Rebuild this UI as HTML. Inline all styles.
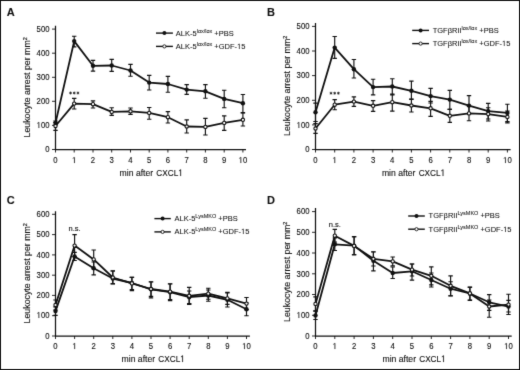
<!DOCTYPE html>
<html><head><meta charset="utf-8"><style>
html,body{margin:0;padding:0;background:#fff;}
body{width:520px;height:370px;overflow:hidden;}
svg{display:block;font-family:"Liberation Sans", sans-serif;filter:grayscale(1);}
svg text{fill:#111;stroke:#111;}
svg text:not([stroke-width]){stroke-width:0.12px;}
</style></head><body>
<svg width="520" height="370" viewBox="0 0 520 370">
<defs><filter id="bl" x="0" y="0" width="520" height="370" filterUnits="userSpaceOnUse" color-interpolation-filters="sRGB"><feConvolveMatrix order="3" kernelMatrix="0.0100 0.0800 0.0100 0.0800 0.6400 0.0800 0.0100 0.0800 0.0100" edgeMode="duplicate" preserveAlpha="true"/></filter></defs>
<g filter="url(#bl)">
<rect x="0.5" y="0.5" width="519" height="369" fill="#fff" stroke="#111" stroke-width="1"/>
<text x="6.7" y="15.6" font-size="11" font-weight="bold" stroke-width="0.1">A</text>
<path d="M55.5 25.8V149.5H246.0" fill="none" stroke="#111" stroke-width="1.25"/>
<line x1="52.0" y1="149.5" x2="55.5" y2="149.5" stroke="#111" stroke-width="0.9"/>
<text transform="translate(49.50 152.00) scale(0.91 1)" font-size="8.5" text-anchor="end">0</text>
<line x1="52.0" y1="125.4" x2="55.5" y2="125.4" stroke="#111" stroke-width="0.9"/>
<text transform="translate(49.50 128.00) scale(0.91 1)" font-size="8.5" text-anchor="end"> 00</text><g transform="translate(49.50 128.00) scale(0.91 1)"><path d="M515 0L515 1237L197 1010L197 1180L530 1409L696 1409L696 0Z" transform="translate(-14.153 0.000) scale(0.004150 -0.004150)" fill="#111" stroke="#111" stroke-width="0.12" vector-effect="non-scaling-stroke"/></g>
<line x1="52.0" y1="101.3" x2="55.5" y2="101.3" stroke="#111" stroke-width="0.9"/>
<text transform="translate(49.50 104.00) scale(0.91 1)" font-size="8.5" text-anchor="end">200</text>
<line x1="52.0" y1="77.3" x2="55.5" y2="77.3" stroke="#111" stroke-width="0.9"/>
<text transform="translate(49.50 80.00) scale(0.91 1)" font-size="8.5" text-anchor="end">300</text>
<line x1="52.0" y1="53.2" x2="55.5" y2="53.2" stroke="#111" stroke-width="0.9"/>
<text transform="translate(49.50 56.00) scale(0.91 1)" font-size="8.5" text-anchor="end">400</text>
<line x1="52.0" y1="29.1" x2="55.5" y2="29.1" stroke="#111" stroke-width="0.9"/>
<text transform="translate(49.50 32.00) scale(0.91 1)" font-size="8.5" text-anchor="end">500</text>
<line x1="55.5" y1="149.5" x2="55.5" y2="152.5" stroke="#111" stroke-width="0.9"/>
<text transform="translate(55.50 163.00) scale(0.91 1)" font-size="8.5" text-anchor="middle">0</text>
<line x1="74.2" y1="149.5" x2="74.2" y2="152.5" stroke="#111" stroke-width="0.9"/>
<text transform="translate(74.24 163.00) scale(0.91 1)" font-size="8.5" text-anchor="middle"> </text><g transform="translate(74.24 163.00) scale(0.91 1)"><path d="M515 0L515 1237L197 1010L197 1180L530 1409L696 1409L696 0Z" transform="translate(-2.362 0.000) scale(0.004150 -0.004150)" fill="#111" stroke="#111" stroke-width="0.12" vector-effect="non-scaling-stroke"/></g>
<line x1="93.0" y1="149.5" x2="93.0" y2="152.5" stroke="#111" stroke-width="0.9"/>
<text transform="translate(92.98 163.00) scale(0.91 1)" font-size="8.5" text-anchor="middle">2</text>
<line x1="111.7" y1="149.5" x2="111.7" y2="152.5" stroke="#111" stroke-width="0.9"/>
<text transform="translate(111.72 163.00) scale(0.91 1)" font-size="8.5" text-anchor="middle">3</text>
<line x1="130.5" y1="149.5" x2="130.5" y2="152.5" stroke="#111" stroke-width="0.9"/>
<text transform="translate(130.46 163.00) scale(0.91 1)" font-size="8.5" text-anchor="middle">4</text>
<line x1="149.2" y1="149.5" x2="149.2" y2="152.5" stroke="#111" stroke-width="0.9"/>
<text transform="translate(149.20 163.00) scale(0.91 1)" font-size="8.5" text-anchor="middle">5</text>
<line x1="167.9" y1="149.5" x2="167.9" y2="152.5" stroke="#111" stroke-width="0.9"/>
<text transform="translate(167.94 163.00) scale(0.91 1)" font-size="8.5" text-anchor="middle">6</text>
<line x1="186.7" y1="149.5" x2="186.7" y2="152.5" stroke="#111" stroke-width="0.9"/>
<text transform="translate(186.68 163.00) scale(0.91 1)" font-size="8.5" text-anchor="middle">7</text>
<line x1="205.4" y1="149.5" x2="205.4" y2="152.5" stroke="#111" stroke-width="0.9"/>
<text transform="translate(205.42 163.00) scale(0.91 1)" font-size="8.5" text-anchor="middle">8</text>
<line x1="224.2" y1="149.5" x2="224.2" y2="152.5" stroke="#111" stroke-width="0.9"/>
<text transform="translate(224.16 163.00) scale(0.91 1)" font-size="8.5" text-anchor="middle">9</text>
<line x1="242.9" y1="149.5" x2="242.9" y2="152.5" stroke="#111" stroke-width="0.9"/>
<text transform="translate(242.90 163.00) scale(0.91 1)" font-size="8.5" text-anchor="middle"> 0</text><g transform="translate(242.90 163.00) scale(0.91 1)"><path d="M515 0L515 1237L197 1010L197 1180L530 1409L696 1409L696 0Z" transform="translate(-4.723 0.000) scale(0.004150 -0.004150)" fill="#111" stroke="#111" stroke-width="0.12" vector-effect="non-scaling-stroke"/></g>
<text transform="translate(119.60 176.00) scale(0.9200 1)" font-size="9.4">min after</text>
<text transform="translate(156.35 176.00) scale(0.8750 1)" font-size="9.4">CXCL </text><g transform="translate(156.35 176.00) scale(0.8750 1)"><path d="M515 0L515 1237L197 1010L197 1180L530 1409L696 1409L696 0Z" transform="translate(25.061 0.000) scale(0.004590 -0.004590)" fill="#111" stroke="#111" stroke-width="0.12" vector-effect="non-scaling-stroke"/></g>
<text transform="translate(30.3 87.4) rotate(-90) scale(0.9362 1)" font-size="9.4" text-anchor="middle">Leukocyte arrest per mm<tspan font-size="5.8" dy="-3.4" stroke-width="0.2">2</tspan></text>
<path d="M55.5 122.5V130.4M53.3 122.5H57.7M53.3 130.4H57.7" stroke="#111" stroke-width="1.15" fill="none"/>
<path d="M74.2 98.3V109.0M72.0 98.3H76.4M72.0 109.0H76.4" stroke="#111" stroke-width="1.15" fill="none"/>
<path d="M93.0 100.8V108.0M90.8 100.8H95.2M90.8 108.0H95.2" stroke="#111" stroke-width="1.15" fill="none"/>
<path d="M111.7 107.7V115.4M109.5 107.7H113.9M109.5 115.4H113.9" stroke="#111" stroke-width="1.15" fill="none"/>
<path d="M130.5 108.0V114.4M128.3 108.0H132.7M128.3 114.4H132.7" stroke="#111" stroke-width="1.15" fill="none"/>
<path d="M149.2 107.5V119.2M147.0 107.5H151.4M147.0 119.2H151.4" stroke="#111" stroke-width="1.15" fill="none"/>
<path d="M167.9 111.6V123.0M165.7 111.6H170.1M165.7 123.0H170.1" stroke="#111" stroke-width="1.15" fill="none"/>
<path d="M186.7 119.9V133.0M184.5 119.9H188.9M184.5 133.0H188.9" stroke="#111" stroke-width="1.15" fill="none"/>
<path d="M205.4 118.4V135.0M203.2 118.4H207.6M203.2 135.0H207.6" stroke="#111" stroke-width="1.15" fill="none"/>
<path d="M224.2 115.9V130.3M222.0 115.9H226.4M222.0 130.3H226.4" stroke="#111" stroke-width="1.15" fill="none"/>
<path d="M242.9 113.0V126.0M240.7 113.0H245.1M240.7 126.0H245.1" stroke="#111" stroke-width="1.15" fill="none"/>
<path d="M55.5 121.0V125.0M53.3 121.0H57.7M53.3 125.0H57.7" stroke="#111" stroke-width="1.15" fill="none"/>
<path d="M74.2 36.2V46.8M72.0 36.2H76.4M72.0 46.8H76.4" stroke="#111" stroke-width="1.15" fill="none"/>
<path d="M93.0 60.3V71.1M90.8 60.3H95.2M90.8 71.1H95.2" stroke="#111" stroke-width="1.15" fill="none"/>
<path d="M111.7 59.4V71.3M109.5 59.4H113.9M109.5 71.3H113.9" stroke="#111" stroke-width="1.15" fill="none"/>
<path d="M130.5 64.4V76.2M128.3 64.4H132.7M128.3 76.2H132.7" stroke="#111" stroke-width="1.15" fill="none"/>
<path d="M149.2 75.4V90.0M147.0 75.4H151.4M147.0 90.0H151.4" stroke="#111" stroke-width="1.15" fill="none"/>
<path d="M167.9 76.4V92.2M165.7 76.4H170.1M165.7 92.2H170.1" stroke="#111" stroke-width="1.15" fill="none"/>
<path d="M186.7 84.6V94.3M184.5 84.6H188.9M184.5 94.3H188.9" stroke="#111" stroke-width="1.15" fill="none"/>
<path d="M205.4 84.6V98.2M203.2 84.6H207.6M203.2 98.2H207.6" stroke="#111" stroke-width="1.15" fill="none"/>
<path d="M224.2 90.2V107.7M222.0 90.2H226.4M222.0 107.7H226.4" stroke="#111" stroke-width="1.15" fill="none"/>
<path d="M242.9 94.5V112.6M240.7 94.5H245.1M240.7 112.6H245.1" stroke="#111" stroke-width="1.15" fill="none"/>
<path d="M55.5 126.0 L74.2 103.6 L93.0 104.2 L111.7 111.9 L130.5 111.3 L149.2 112.9 L167.9 117.2 L186.7 126.5 L205.4 126.9 L224.2 122.9 L242.9 119.8" stroke="#111" stroke-width="1.8" fill="none" stroke-linejoin="round"/>
<path d="M55.5 123.0 L74.2 41.1 L93.0 65.8 L111.7 65.5 L130.5 70.5 L149.2 82.6 L167.9 84.0 L186.7 89.6 L205.4 91.3 L224.2 98.9 L242.9 103.2" stroke="#111" stroke-width="1.8" fill="none" stroke-linejoin="round"/>
<circle cx="55.5" cy="123.0" r="2.2" fill="#111"/>
<circle cx="74.2" cy="41.1" r="2.2" fill="#111"/>
<circle cx="93.0" cy="65.8" r="2.2" fill="#111"/>
<circle cx="111.7" cy="65.5" r="2.2" fill="#111"/>
<circle cx="130.5" cy="70.5" r="2.2" fill="#111"/>
<circle cx="149.2" cy="82.6" r="2.2" fill="#111"/>
<circle cx="167.9" cy="84.0" r="2.2" fill="#111"/>
<circle cx="186.7" cy="89.6" r="2.2" fill="#111"/>
<circle cx="205.4" cy="91.3" r="2.2" fill="#111"/>
<circle cx="224.2" cy="98.9" r="2.2" fill="#111"/>
<circle cx="242.9" cy="103.2" r="2.2" fill="#111"/>
<circle cx="55.5" cy="126.0" r="1.65" fill="#fff" stroke="#111" stroke-width="1.1"/>
<circle cx="74.2" cy="103.6" r="1.65" fill="#fff" stroke="#111" stroke-width="1.1"/>
<circle cx="93.0" cy="104.2" r="1.65" fill="#fff" stroke="#111" stroke-width="1.1"/>
<circle cx="111.7" cy="111.9" r="1.65" fill="#fff" stroke="#111" stroke-width="1.1"/>
<circle cx="130.5" cy="111.3" r="1.65" fill="#fff" stroke="#111" stroke-width="1.1"/>
<circle cx="149.2" cy="112.9" r="1.65" fill="#fff" stroke="#111" stroke-width="1.1"/>
<circle cx="167.9" cy="117.2" r="1.65" fill="#fff" stroke="#111" stroke-width="1.1"/>
<circle cx="186.7" cy="126.5" r="1.65" fill="#fff" stroke="#111" stroke-width="1.1"/>
<circle cx="205.4" cy="126.9" r="1.65" fill="#fff" stroke="#111" stroke-width="1.1"/>
<circle cx="224.2" cy="122.9" r="1.65" fill="#fff" stroke="#111" stroke-width="1.1"/>
<circle cx="242.9" cy="119.8" r="1.65" fill="#fff" stroke="#111" stroke-width="1.1"/>
<line x1="156.0" y1="33.1" x2="172.9" y2="33.1" stroke="#111" stroke-width="1.4"/>
<circle cx="164.4" cy="33.1" r="2" fill="#111"/>
<text x="175.8" y="36.0" font-size="7.5" stroke-width="0.05">ALK-5<tspan font-size="5.5" dy="-3.3" stroke-width="0.05">lox/lox</tspan><tspan dy="3.3"> +PBS</tspan></text>
<line x1="156.0" y1="46.4" x2="172.9" y2="46.4" stroke="#111" stroke-width="1.4"/>
<circle cx="164.4" cy="46.4" r="1.6" fill="#fff" stroke="#111" stroke-width="0.9"/>
<text x="175.8" y="49.0" font-size="7.5" stroke-width="0.05">ALK-5<tspan font-size="5.5" dy="-3.3" stroke-width="0.05">lox/lox</tspan><tspan dy="3.3"> +GDF- 5</tspan></text><path d="M515 0L515 1237L197 1010L197 1180L530 1409L696 1409L696 0Z" transform="translate(237.034 49.000) scale(0.003662 -0.003662)" fill="#111" stroke="#111" stroke-width="0.05" vector-effect="non-scaling-stroke"/>
<path d="M70.54 94.45L70.54 91.55M71.80 93.72L69.28 92.28M69.28 93.72L71.80 92.28" stroke="#111" stroke-width="0.75" fill="none"/>
<path d="M74.24 94.45L74.24 91.55M75.50 93.72L72.98 92.28M72.98 93.72L75.50 92.28" stroke="#111" stroke-width="0.75" fill="none"/>
<path d="M77.94 94.45L77.94 91.55M79.20 93.72L76.68 92.28M76.68 93.72L79.20 92.28" stroke="#111" stroke-width="0.75" fill="none"/>
<text x="267.1" y="15.9" font-size="11" font-weight="bold" stroke-width="0.1">B</text>
<path d="M315.5 22.9V149.5H510.6" fill="none" stroke="#111" stroke-width="1.25"/>
<line x1="312.0" y1="149.5" x2="315.5" y2="149.5" stroke="#111" stroke-width="0.9"/>
<text transform="translate(309.50 152.00) scale(0.91 1)" font-size="8.5" text-anchor="end">0</text>
<line x1="312.0" y1="124.9" x2="315.5" y2="124.9" stroke="#111" stroke-width="0.9"/>
<text transform="translate(309.50 128.00) scale(0.91 1)" font-size="8.5" text-anchor="end"> 00</text><g transform="translate(309.50 128.00) scale(0.91 1)"><path d="M515 0L515 1237L197 1010L197 1180L530 1409L696 1409L696 0Z" transform="translate(-14.153 0.000) scale(0.004150 -0.004150)" fill="#111" stroke="#111" stroke-width="0.12" vector-effect="non-scaling-stroke"/></g>
<line x1="312.0" y1="100.3" x2="315.5" y2="100.3" stroke="#111" stroke-width="0.9"/>
<text transform="translate(309.50 103.00) scale(0.91 1)" font-size="8.5" text-anchor="end">200</text>
<line x1="312.0" y1="75.6" x2="315.5" y2="75.6" stroke="#111" stroke-width="0.9"/>
<text transform="translate(309.50 78.00) scale(0.91 1)" font-size="8.5" text-anchor="end">300</text>
<line x1="312.0" y1="51.0" x2="315.5" y2="51.0" stroke="#111" stroke-width="0.9"/>
<text transform="translate(309.50 54.00) scale(0.91 1)" font-size="8.5" text-anchor="end">400</text>
<line x1="312.0" y1="26.4" x2="315.5" y2="26.4" stroke="#111" stroke-width="0.9"/>
<text transform="translate(309.50 29.00) scale(0.91 1)" font-size="8.5" text-anchor="end">500</text>
<line x1="315.5" y1="149.5" x2="315.5" y2="152.5" stroke="#111" stroke-width="0.9"/>
<text transform="translate(315.50 163.00) scale(0.91 1)" font-size="8.5" text-anchor="middle">0</text>
<line x1="334.7" y1="149.5" x2="334.7" y2="152.5" stroke="#111" stroke-width="0.9"/>
<text transform="translate(334.69 163.00) scale(0.91 1)" font-size="8.5" text-anchor="middle"> </text><g transform="translate(334.69 163.00) scale(0.91 1)"><path d="M515 0L515 1237L197 1010L197 1180L530 1409L696 1409L696 0Z" transform="translate(-2.362 0.000) scale(0.004150 -0.004150)" fill="#111" stroke="#111" stroke-width="0.12" vector-effect="non-scaling-stroke"/></g>
<line x1="353.9" y1="149.5" x2="353.9" y2="152.5" stroke="#111" stroke-width="0.9"/>
<text transform="translate(353.88 163.00) scale(0.91 1)" font-size="8.5" text-anchor="middle">2</text>
<line x1="373.1" y1="149.5" x2="373.1" y2="152.5" stroke="#111" stroke-width="0.9"/>
<text transform="translate(373.07 163.00) scale(0.91 1)" font-size="8.5" text-anchor="middle">3</text>
<line x1="392.3" y1="149.5" x2="392.3" y2="152.5" stroke="#111" stroke-width="0.9"/>
<text transform="translate(392.26 163.00) scale(0.91 1)" font-size="8.5" text-anchor="middle">4</text>
<line x1="411.4" y1="149.5" x2="411.4" y2="152.5" stroke="#111" stroke-width="0.9"/>
<text transform="translate(411.45 163.00) scale(0.91 1)" font-size="8.5" text-anchor="middle">5</text>
<line x1="430.6" y1="149.5" x2="430.6" y2="152.5" stroke="#111" stroke-width="0.9"/>
<text transform="translate(430.64 163.00) scale(0.91 1)" font-size="8.5" text-anchor="middle">6</text>
<line x1="449.8" y1="149.5" x2="449.8" y2="152.5" stroke="#111" stroke-width="0.9"/>
<text transform="translate(449.83 163.00) scale(0.91 1)" font-size="8.5" text-anchor="middle">7</text>
<line x1="469.0" y1="149.5" x2="469.0" y2="152.5" stroke="#111" stroke-width="0.9"/>
<text transform="translate(469.02 163.00) scale(0.91 1)" font-size="8.5" text-anchor="middle">8</text>
<line x1="488.2" y1="149.5" x2="488.2" y2="152.5" stroke="#111" stroke-width="0.9"/>
<text transform="translate(488.21 163.00) scale(0.91 1)" font-size="8.5" text-anchor="middle">9</text>
<line x1="507.4" y1="149.5" x2="507.4" y2="152.5" stroke="#111" stroke-width="0.9"/>
<text transform="translate(507.40 163.00) scale(0.91 1)" font-size="8.5" text-anchor="middle"> 0</text><g transform="translate(507.40 163.00) scale(0.91 1)"><path d="M515 0L515 1237L197 1010L197 1180L530 1409L696 1409L696 0Z" transform="translate(-4.723 0.000) scale(0.004150 -0.004150)" fill="#111" stroke="#111" stroke-width="0.12" vector-effect="non-scaling-stroke"/></g>
<text transform="translate(381.90 176.00) scale(0.9200 1)" font-size="9.4">min after</text>
<text transform="translate(418.65 176.00) scale(0.8750 1)" font-size="9.4">CXCL </text><g transform="translate(418.65 176.00) scale(0.8750 1)"><path d="M515 0L515 1237L197 1010L197 1180L530 1409L696 1409L696 0Z" transform="translate(25.061 0.000) scale(0.004590 -0.004590)" fill="#111" stroke="#111" stroke-width="0.12" vector-effect="non-scaling-stroke"/></g>
<text transform="translate(290.3 85.9) rotate(-90) scale(0.9362 1)" font-size="9.4" text-anchor="middle">Leukocyte arrest per mm<tspan font-size="5.8" dy="-3.4" stroke-width="0.2">2</tspan></text>
<path d="M315.5 123.6V133.4M313.3 123.6H317.7M313.3 133.4H317.7" stroke="#111" stroke-width="1.15" fill="none"/>
<path d="M334.7 99.6V109.7M332.5 99.6H336.9M332.5 109.7H336.9" stroke="#111" stroke-width="1.15" fill="none"/>
<path d="M353.9 96.9V106.4M351.7 96.9H356.1M351.7 106.4H356.1" stroke="#111" stroke-width="1.15" fill="none"/>
<path d="M373.1 100.6V111.3M370.9 100.6H375.3M370.9 111.3H375.3" stroke="#111" stroke-width="1.15" fill="none"/>
<path d="M392.3 94.1V111.1M390.1 94.1H394.5M390.1 111.1H394.5" stroke="#111" stroke-width="1.15" fill="none"/>
<path d="M411.4 99.0V112.0M409.2 99.0H413.6M409.2 112.0H413.6" stroke="#111" stroke-width="1.15" fill="none"/>
<path d="M430.6 101.4V116.3M428.4 101.4H432.8M428.4 116.3H432.8" stroke="#111" stroke-width="1.15" fill="none"/>
<path d="M449.8 109.4V122.4M447.6 109.4H452.0M447.6 122.4H452.0" stroke="#111" stroke-width="1.15" fill="none"/>
<path d="M469.0 106.5V120.7M466.8 106.5H471.2M466.8 120.7H471.2" stroke="#111" stroke-width="1.15" fill="none"/>
<path d="M488.2 107.7V121.0M486.0 107.7H490.4M486.0 121.0H490.4" stroke="#111" stroke-width="1.15" fill="none"/>
<path d="M507.4 111.0V122.9M505.2 111.0H509.6M505.2 122.9H509.6" stroke="#111" stroke-width="1.15" fill="none"/>
<path d="M315.5 103.1V121.5M313.3 103.1H317.7M313.3 121.5H317.7" stroke="#111" stroke-width="1.15" fill="none"/>
<path d="M334.7 36.5V58.4M332.5 36.5H336.9M332.5 58.4H336.9" stroke="#111" stroke-width="1.15" fill="none"/>
<path d="M353.9 59.5V78.0M351.7 59.5H356.1M351.7 78.0H356.1" stroke="#111" stroke-width="1.15" fill="none"/>
<path d="M373.1 79.2V94.9M370.9 79.2H375.3M370.9 94.9H375.3" stroke="#111" stroke-width="1.15" fill="none"/>
<path d="M392.3 78.7V94.9M390.1 78.7H394.5M390.1 94.9H394.5" stroke="#111" stroke-width="1.15" fill="none"/>
<path d="M411.4 81.1V99.4M409.2 81.1H413.6M409.2 99.4H413.6" stroke="#111" stroke-width="1.15" fill="none"/>
<path d="M430.6 88.3V103.0M428.4 88.3H432.8M428.4 103.0H432.8" stroke="#111" stroke-width="1.15" fill="none"/>
<path d="M449.8 90.4V109.4M447.6 90.4H452.0M447.6 109.4H452.0" stroke="#111" stroke-width="1.15" fill="none"/>
<path d="M469.0 95.6V113.7M466.8 95.6H471.2M466.8 113.7H471.2" stroke="#111" stroke-width="1.15" fill="none"/>
<path d="M488.2 103.4V119.0M486.0 103.4H490.4M486.0 119.0H490.4" stroke="#111" stroke-width="1.15" fill="none"/>
<path d="M507.4 104.2V121.6M505.2 104.2H509.6M505.2 121.6H509.6" stroke="#111" stroke-width="1.15" fill="none"/>
<path d="M315.5 128.5 L334.7 104.7 L353.9 101.6 L373.1 105.8 L392.3 102.2 L411.4 105.5 L430.6 108.3 L449.8 115.8 L469.0 113.4 L488.2 114.1 L507.4 116.9" stroke="#111" stroke-width="1.8" fill="none" stroke-linejoin="round"/>
<path d="M315.5 112.3 L334.7 47.6 L353.9 69.2 L373.1 87.1 L392.3 86.5 L411.4 90.8 L430.6 96.1 L449.8 99.6 L469.0 105.6 L488.2 111.1 L507.4 112.9" stroke="#111" stroke-width="1.8" fill="none" stroke-linejoin="round"/>
<circle cx="315.5" cy="112.3" r="2.2" fill="#111"/>
<circle cx="334.7" cy="47.6" r="2.2" fill="#111"/>
<circle cx="353.9" cy="69.2" r="2.2" fill="#111"/>
<circle cx="373.1" cy="87.1" r="2.2" fill="#111"/>
<circle cx="392.3" cy="86.5" r="2.2" fill="#111"/>
<circle cx="411.4" cy="90.8" r="2.2" fill="#111"/>
<circle cx="430.6" cy="96.1" r="2.2" fill="#111"/>
<circle cx="449.8" cy="99.6" r="2.2" fill="#111"/>
<circle cx="469.0" cy="105.6" r="2.2" fill="#111"/>
<circle cx="488.2" cy="111.1" r="2.2" fill="#111"/>
<circle cx="507.4" cy="112.9" r="2.2" fill="#111"/>
<circle cx="315.5" cy="128.5" r="1.65" fill="#fff" stroke="#111" stroke-width="1.1"/>
<circle cx="334.7" cy="104.7" r="1.65" fill="#fff" stroke="#111" stroke-width="1.1"/>
<circle cx="353.9" cy="101.6" r="1.65" fill="#fff" stroke="#111" stroke-width="1.1"/>
<circle cx="373.1" cy="105.8" r="1.65" fill="#fff" stroke="#111" stroke-width="1.1"/>
<circle cx="392.3" cy="102.2" r="1.65" fill="#fff" stroke="#111" stroke-width="1.1"/>
<circle cx="411.4" cy="105.5" r="1.65" fill="#fff" stroke="#111" stroke-width="1.1"/>
<circle cx="430.6" cy="108.3" r="1.65" fill="#fff" stroke="#111" stroke-width="1.1"/>
<circle cx="449.8" cy="115.8" r="1.65" fill="#fff" stroke="#111" stroke-width="1.1"/>
<circle cx="469.0" cy="113.4" r="1.65" fill="#fff" stroke="#111" stroke-width="1.1"/>
<circle cx="488.2" cy="114.1" r="1.65" fill="#fff" stroke="#111" stroke-width="1.1"/>
<circle cx="507.4" cy="116.9" r="1.65" fill="#fff" stroke="#111" stroke-width="1.1"/>
<line x1="412.2" y1="30.4" x2="429.0" y2="30.4" stroke="#111" stroke-width="1.4"/>
<circle cx="420.6" cy="30.4" r="2" fill="#111"/>
<text x="432.7" y="33.0" font-size="7.5" stroke-width="0.05">TGFβRII<tspan font-size="5.5" dy="-3.3" stroke-width="0.05">lox/lox</tspan><tspan dy="3.3"> +PBS</tspan></text>
<line x1="412.2" y1="43.6" x2="429.0" y2="43.6" stroke="#111" stroke-width="1.4"/>
<circle cx="420.6" cy="43.6" r="1.6" fill="#fff" stroke="#111" stroke-width="0.9"/>
<text x="432.7" y="46.0" font-size="7.5" stroke-width="0.05">TGFβRII<tspan font-size="5.5" dy="-3.3" stroke-width="0.05">lox/lox</tspan><tspan dy="3.3"> +GDF- 5</tspan></text><path d="M515 0L515 1237L197 1010L197 1180L530 1409L696 1409L696 0Z" transform="translate(501.981 46.000) scale(0.003662 -0.003662)" fill="#111" stroke="#111" stroke-width="0.05" vector-effect="non-scaling-stroke"/>
<path d="M330.99 94.65L330.99 91.75M332.25 93.92L329.73 92.48M329.73 93.92L332.25 92.48" stroke="#111" stroke-width="0.75" fill="none"/>
<path d="M334.69 94.65L334.69 91.75M335.95 93.92L333.43 92.48M333.43 93.92L335.95 92.48" stroke="#111" stroke-width="0.75" fill="none"/>
<path d="M338.39 94.65L338.39 91.75M339.65 93.92L337.13 92.48M337.13 93.92L339.65 92.48" stroke="#111" stroke-width="0.75" fill="none"/>
<text x="6.7" y="203.9" font-size="11" font-weight="bold" stroke-width="0.1">C</text>
<path d="M55.5 211.2V336.0H249.9" fill="none" stroke="#111" stroke-width="1.25"/>
<line x1="52.0" y1="336.0" x2="55.5" y2="336.0" stroke="#111" stroke-width="0.9"/>
<text transform="translate(49.50 339.00) scale(0.91 1)" font-size="8.5" text-anchor="end">0</text>
<line x1="52.0" y1="315.7" x2="55.5" y2="315.7" stroke="#111" stroke-width="0.9"/>
<text transform="translate(49.50 318.00) scale(0.91 1)" font-size="8.5" text-anchor="end"> 00</text><g transform="translate(49.50 318.00) scale(0.91 1)"><path d="M515 0L515 1237L197 1010L197 1180L530 1409L696 1409L696 0Z" transform="translate(-14.153 0.000) scale(0.004150 -0.004150)" fill="#111" stroke="#111" stroke-width="0.12" vector-effect="non-scaling-stroke"/></g>
<line x1="52.0" y1="295.4" x2="55.5" y2="295.4" stroke="#111" stroke-width="0.9"/>
<text transform="translate(49.50 298.00) scale(0.91 1)" font-size="8.5" text-anchor="end">200</text>
<line x1="52.0" y1="275.2" x2="55.5" y2="275.2" stroke="#111" stroke-width="0.9"/>
<text transform="translate(49.50 278.00) scale(0.91 1)" font-size="8.5" text-anchor="end">300</text>
<line x1="52.0" y1="254.9" x2="55.5" y2="254.9" stroke="#111" stroke-width="0.9"/>
<text transform="translate(49.50 258.00) scale(0.91 1)" font-size="8.5" text-anchor="end">400</text>
<line x1="52.0" y1="234.6" x2="55.5" y2="234.6" stroke="#111" stroke-width="0.9"/>
<text transform="translate(49.50 237.00) scale(0.91 1)" font-size="8.5" text-anchor="end">500</text>
<line x1="52.0" y1="214.3" x2="55.5" y2="214.3" stroke="#111" stroke-width="0.9"/>
<text transform="translate(49.50 217.00) scale(0.91 1)" font-size="8.5" text-anchor="end">600</text>
<line x1="55.5" y1="336.0" x2="55.5" y2="339.0" stroke="#111" stroke-width="0.9"/>
<text transform="translate(55.50 349.00) scale(0.91 1)" font-size="8.5" text-anchor="middle">0</text>
<line x1="74.6" y1="336.0" x2="74.6" y2="339.0" stroke="#111" stroke-width="0.9"/>
<text transform="translate(74.60 349.00) scale(0.91 1)" font-size="8.5" text-anchor="middle"> </text><g transform="translate(74.60 349.00) scale(0.91 1)"><path d="M515 0L515 1237L197 1010L197 1180L530 1409L696 1409L696 0Z" transform="translate(-2.362 0.000) scale(0.004150 -0.004150)" fill="#111" stroke="#111" stroke-width="0.12" vector-effect="non-scaling-stroke"/></g>
<line x1="93.7" y1="336.0" x2="93.7" y2="339.0" stroke="#111" stroke-width="0.9"/>
<text transform="translate(93.70 349.00) scale(0.91 1)" font-size="8.5" text-anchor="middle">2</text>
<line x1="112.8" y1="336.0" x2="112.8" y2="339.0" stroke="#111" stroke-width="0.9"/>
<text transform="translate(112.80 349.00) scale(0.91 1)" font-size="8.5" text-anchor="middle">3</text>
<line x1="131.9" y1="336.0" x2="131.9" y2="339.0" stroke="#111" stroke-width="0.9"/>
<text transform="translate(131.90 349.00) scale(0.91 1)" font-size="8.5" text-anchor="middle">4</text>
<line x1="151.0" y1="336.0" x2="151.0" y2="339.0" stroke="#111" stroke-width="0.9"/>
<text transform="translate(151.00 349.00) scale(0.91 1)" font-size="8.5" text-anchor="middle">5</text>
<line x1="170.1" y1="336.0" x2="170.1" y2="339.0" stroke="#111" stroke-width="0.9"/>
<text transform="translate(170.10 349.00) scale(0.91 1)" font-size="8.5" text-anchor="middle">6</text>
<line x1="189.2" y1="336.0" x2="189.2" y2="339.0" stroke="#111" stroke-width="0.9"/>
<text transform="translate(189.20 349.00) scale(0.91 1)" font-size="8.5" text-anchor="middle">7</text>
<line x1="208.3" y1="336.0" x2="208.3" y2="339.0" stroke="#111" stroke-width="0.9"/>
<text transform="translate(208.30 349.00) scale(0.91 1)" font-size="8.5" text-anchor="middle">8</text>
<line x1="227.4" y1="336.0" x2="227.4" y2="339.0" stroke="#111" stroke-width="0.9"/>
<text transform="translate(227.40 349.00) scale(0.91 1)" font-size="8.5" text-anchor="middle">9</text>
<line x1="246.5" y1="336.0" x2="246.5" y2="339.0" stroke="#111" stroke-width="0.9"/>
<text transform="translate(246.50 349.00) scale(0.91 1)" font-size="8.5" text-anchor="middle"> 0</text><g transform="translate(246.50 349.00) scale(0.91 1)"><path d="M515 0L515 1237L197 1010L197 1180L530 1409L696 1409L696 0Z" transform="translate(-4.723 0.000) scale(0.004150 -0.004150)" fill="#111" stroke="#111" stroke-width="0.12" vector-effect="non-scaling-stroke"/></g>
<text transform="translate(121.55 362.00) scale(0.9200 1)" font-size="9.4">min after</text>
<text transform="translate(158.30 362.00) scale(0.8750 1)" font-size="9.4">CXCL </text><g transform="translate(158.30 362.00) scale(0.8750 1)"><path d="M515 0L515 1237L197 1010L197 1180L530 1409L696 1409L696 0Z" transform="translate(25.061 0.000) scale(0.004590 -0.004590)" fill="#111" stroke="#111" stroke-width="0.12" vector-effect="non-scaling-stroke"/></g>
<text transform="translate(30.3 273.3) rotate(-90) scale(0.9362 1)" font-size="9.4" text-anchor="middle">Leukocyte arrest per mm<tspan font-size="5.8" dy="-3.4" stroke-width="0.2">2</tspan></text>
<path d="M55.5 300.0V310.0M53.3 300.0H57.7M53.3 310.0H57.7" stroke="#111" stroke-width="1.15" fill="none"/>
<path d="M74.6 234.6V256.6M72.4 234.6H76.8M72.4 256.6H76.8" stroke="#111" stroke-width="1.15" fill="none"/>
<path d="M93.7 250.0V268.8M91.5 250.0H95.9M91.5 268.8H95.9" stroke="#111" stroke-width="1.15" fill="none"/>
<path d="M112.8 270.8V283.6M110.6 270.8H115.0M110.6 283.6H115.0" stroke="#111" stroke-width="1.15" fill="none"/>
<path d="M131.9 277.3V289.5M129.7 277.3H134.1M129.7 289.5H134.1" stroke="#111" stroke-width="1.15" fill="none"/>
<path d="M151.0 281.7V296.3M148.8 281.7H153.2M148.8 296.3H153.2" stroke="#111" stroke-width="1.15" fill="none"/>
<path d="M170.1 283.7V299.5M167.9 283.7H172.3M167.9 299.5H172.3" stroke="#111" stroke-width="1.15" fill="none"/>
<path d="M189.2 287.3V304.3M187.0 287.3H191.4M187.0 304.3H191.4" stroke="#111" stroke-width="1.15" fill="none"/>
<path d="M208.3 288.2V299.2M206.1 288.2H210.5M206.1 299.2H210.5" stroke="#111" stroke-width="1.15" fill="none"/>
<path d="M227.4 292.4V304.4M225.2 292.4H229.6M225.2 304.4H229.6" stroke="#111" stroke-width="1.15" fill="none"/>
<path d="M246.5 297.5V309.7M244.3 297.5H248.7M244.3 309.7H248.7" stroke="#111" stroke-width="1.15" fill="none"/>
<path d="M55.5 306.8V315.4M53.3 306.8H57.7M53.3 315.4H57.7" stroke="#111" stroke-width="1.15" fill="none"/>
<path d="M74.6 252.4V260.5M72.4 252.4H76.8M72.4 260.5H76.8" stroke="#111" stroke-width="1.15" fill="none"/>
<path d="M93.7 262.0V274.8M91.5 262.0H95.9M91.5 274.8H95.9" stroke="#111" stroke-width="1.15" fill="none"/>
<path d="M112.8 271.0V284.0M110.6 271.0H115.0M110.6 284.0H115.0" stroke="#111" stroke-width="1.15" fill="none"/>
<path d="M131.9 277.3V290.6M129.7 277.3H134.1M129.7 290.6H134.1" stroke="#111" stroke-width="1.15" fill="none"/>
<path d="M151.0 282.0V297.9M148.8 282.0H153.2M148.8 297.9H153.2" stroke="#111" stroke-width="1.15" fill="none"/>
<path d="M170.1 284.0V300.6M167.9 284.0H172.3M167.9 300.6H172.3" stroke="#111" stroke-width="1.15" fill="none"/>
<path d="M189.2 291.0V303.6M187.0 291.0H191.4M187.0 303.6H191.4" stroke="#111" stroke-width="1.15" fill="none"/>
<path d="M208.3 290.0V301.2M206.1 290.0H210.5M206.1 301.2H210.5" stroke="#111" stroke-width="1.15" fill="none"/>
<path d="M227.4 293.0V307.0M225.2 293.0H229.6M225.2 307.0H229.6" stroke="#111" stroke-width="1.15" fill="none"/>
<path d="M246.5 303.0V315.7M244.3 303.0H248.7M244.3 315.7H248.7" stroke="#111" stroke-width="1.15" fill="none"/>
<path d="M55.5 305.0 L74.6 245.6 L93.7 259.4 L112.8 277.5 L131.9 283.4 L151.0 289.0 L170.1 291.6 L189.2 295.8 L208.3 293.7 L227.4 298.4 L246.5 303.6" stroke="#111" stroke-width="1.8" fill="none" stroke-linejoin="round"/>
<path d="M55.5 311.1 L74.6 256.5 L93.7 268.3 L112.8 278.5 L131.9 283.0 L151.0 289.3 L170.1 292.2 L189.2 297.2 L208.3 295.5 L227.4 299.8 L246.5 309.3" stroke="#111" stroke-width="1.8" fill="none" stroke-linejoin="round"/>
<circle cx="55.5" cy="311.1" r="2.2" fill="#111"/>
<circle cx="74.6" cy="256.5" r="2.2" fill="#111"/>
<circle cx="93.7" cy="268.3" r="2.2" fill="#111"/>
<circle cx="112.8" cy="278.5" r="2.2" fill="#111"/>
<circle cx="131.9" cy="283.0" r="2.2" fill="#111"/>
<circle cx="151.0" cy="289.3" r="2.2" fill="#111"/>
<circle cx="170.1" cy="292.2" r="2.2" fill="#111"/>
<circle cx="189.2" cy="297.2" r="2.2" fill="#111"/>
<circle cx="208.3" cy="295.5" r="2.2" fill="#111"/>
<circle cx="227.4" cy="299.8" r="2.2" fill="#111"/>
<circle cx="246.5" cy="309.3" r="2.2" fill="#111"/>
<circle cx="55.5" cy="305.0" r="1.65" fill="#fff" stroke="#111" stroke-width="1.1"/>
<circle cx="74.6" cy="245.6" r="1.65" fill="#fff" stroke="#111" stroke-width="1.1"/>
<circle cx="93.7" cy="259.4" r="1.65" fill="#fff" stroke="#111" stroke-width="1.1"/>
<circle cx="112.8" cy="277.5" r="1.65" fill="#fff" stroke="#111" stroke-width="1.1"/>
<circle cx="131.9" cy="283.4" r="1.65" fill="#fff" stroke="#111" stroke-width="1.1"/>
<circle cx="151.0" cy="289.0" r="1.65" fill="#fff" stroke="#111" stroke-width="1.1"/>
<circle cx="170.1" cy="291.6" r="1.65" fill="#fff" stroke="#111" stroke-width="1.1"/>
<circle cx="189.2" cy="295.8" r="1.65" fill="#fff" stroke="#111" stroke-width="1.1"/>
<circle cx="208.3" cy="293.7" r="1.65" fill="#fff" stroke="#111" stroke-width="1.1"/>
<circle cx="227.4" cy="298.4" r="1.65" fill="#fff" stroke="#111" stroke-width="1.1"/>
<circle cx="246.5" cy="303.6" r="1.65" fill="#fff" stroke="#111" stroke-width="1.1"/>
<line x1="154.4" y1="218.6" x2="170.8" y2="218.6" stroke="#111" stroke-width="1.4"/>
<circle cx="162.6" cy="218.6" r="2" fill="#111"/>
<text x="174.5" y="221.0" font-size="7.5" stroke-width="0.05">ALK-5<tspan font-size="5.5" dy="-3.3" stroke-width="0.05">LysMKO</tspan><tspan dy="3.3"> +PBS</tspan></text>
<line x1="154.4" y1="231.9" x2="170.8" y2="231.9" stroke="#111" stroke-width="1.4"/>
<circle cx="162.6" cy="231.9" r="1.6" fill="#fff" stroke="#111" stroke-width="0.9"/>
<text x="174.5" y="234.0" font-size="7.5" stroke-width="0.05">ALK-5<tspan font-size="5.5" dy="-3.3" stroke-width="0.05">LysMKO</tspan><tspan dy="3.3"> +GDF- 5</tspan></text><path d="M515 0L515 1237L197 1010L197 1180L530 1409L696 1409L696 0Z" transform="translate(241.031 234.000) scale(0.003662 -0.003662)" fill="#111" stroke="#111" stroke-width="0.05" vector-effect="non-scaling-stroke"/>
<text x="74.6" y="231.4" font-size="7.5" text-anchor="middle">n.s.</text>
<text x="267.1" y="203.9" font-size="11" font-weight="bold" stroke-width="0.1">D</text>
<path d="M315.5 208.1V336.0H511.7" fill="none" stroke="#111" stroke-width="1.25"/>
<line x1="312.0" y1="336.0" x2="315.5" y2="336.0" stroke="#111" stroke-width="0.9"/>
<text transform="translate(309.50 339.00) scale(0.91 1)" font-size="8.5" text-anchor="end">0</text>
<line x1="312.0" y1="315.3" x2="315.5" y2="315.3" stroke="#111" stroke-width="0.9"/>
<text transform="translate(309.50 318.00) scale(0.91 1)" font-size="8.5" text-anchor="end"> 00</text><g transform="translate(309.50 318.00) scale(0.91 1)"><path d="M515 0L515 1237L197 1010L197 1180L530 1409L696 1409L696 0Z" transform="translate(-14.153 0.000) scale(0.004150 -0.004150)" fill="#111" stroke="#111" stroke-width="0.12" vector-effect="non-scaling-stroke"/></g>
<line x1="312.0" y1="294.5" x2="315.5" y2="294.5" stroke="#111" stroke-width="0.9"/>
<text transform="translate(309.50 297.00) scale(0.91 1)" font-size="8.5" text-anchor="end">200</text>
<line x1="312.0" y1="273.8" x2="315.5" y2="273.8" stroke="#111" stroke-width="0.9"/>
<text transform="translate(309.50 277.00) scale(0.91 1)" font-size="8.5" text-anchor="end">300</text>
<line x1="312.0" y1="253.0" x2="315.5" y2="253.0" stroke="#111" stroke-width="0.9"/>
<text transform="translate(309.50 256.00) scale(0.91 1)" font-size="8.5" text-anchor="end">400</text>
<line x1="312.0" y1="232.3" x2="315.5" y2="232.3" stroke="#111" stroke-width="0.9"/>
<text transform="translate(309.50 235.00) scale(0.91 1)" font-size="8.5" text-anchor="end">500</text>
<line x1="312.0" y1="211.6" x2="315.5" y2="211.6" stroke="#111" stroke-width="0.9"/>
<text transform="translate(309.50 214.00) scale(0.91 1)" font-size="8.5" text-anchor="end">600</text>
<line x1="315.5" y1="336.0" x2="315.5" y2="339.0" stroke="#111" stroke-width="0.9"/>
<text transform="translate(315.50 349.00) scale(0.91 1)" font-size="8.5" text-anchor="middle">0</text>
<line x1="334.8" y1="336.0" x2="334.8" y2="339.0" stroke="#111" stroke-width="0.9"/>
<text transform="translate(334.80 349.00) scale(0.91 1)" font-size="8.5" text-anchor="middle"> </text><g transform="translate(334.80 349.00) scale(0.91 1)"><path d="M515 0L515 1237L197 1010L197 1180L530 1409L696 1409L696 0Z" transform="translate(-2.362 0.000) scale(0.004150 -0.004150)" fill="#111" stroke="#111" stroke-width="0.12" vector-effect="non-scaling-stroke"/></g>
<line x1="354.1" y1="336.0" x2="354.1" y2="339.0" stroke="#111" stroke-width="0.9"/>
<text transform="translate(354.10 349.00) scale(0.91 1)" font-size="8.5" text-anchor="middle">2</text>
<line x1="373.4" y1="336.0" x2="373.4" y2="339.0" stroke="#111" stroke-width="0.9"/>
<text transform="translate(373.40 349.00) scale(0.91 1)" font-size="8.5" text-anchor="middle">3</text>
<line x1="392.7" y1="336.0" x2="392.7" y2="339.0" stroke="#111" stroke-width="0.9"/>
<text transform="translate(392.70 349.00) scale(0.91 1)" font-size="8.5" text-anchor="middle">4</text>
<line x1="412.0" y1="336.0" x2="412.0" y2="339.0" stroke="#111" stroke-width="0.9"/>
<text transform="translate(412.00 349.00) scale(0.91 1)" font-size="8.5" text-anchor="middle">5</text>
<line x1="431.3" y1="336.0" x2="431.3" y2="339.0" stroke="#111" stroke-width="0.9"/>
<text transform="translate(431.30 349.00) scale(0.91 1)" font-size="8.5" text-anchor="middle">6</text>
<line x1="450.6" y1="336.0" x2="450.6" y2="339.0" stroke="#111" stroke-width="0.9"/>
<text transform="translate(450.60 349.00) scale(0.91 1)" font-size="8.5" text-anchor="middle">7</text>
<line x1="469.9" y1="336.0" x2="469.9" y2="339.0" stroke="#111" stroke-width="0.9"/>
<text transform="translate(469.90 349.00) scale(0.91 1)" font-size="8.5" text-anchor="middle">8</text>
<line x1="489.2" y1="336.0" x2="489.2" y2="339.0" stroke="#111" stroke-width="0.9"/>
<text transform="translate(489.20 349.00) scale(0.91 1)" font-size="8.5" text-anchor="middle">9</text>
<line x1="508.5" y1="336.0" x2="508.5" y2="339.0" stroke="#111" stroke-width="0.9"/>
<text transform="translate(508.50 349.00) scale(0.91 1)" font-size="8.5" text-anchor="middle"> 0</text><g transform="translate(508.50 349.00) scale(0.91 1)"><path d="M515 0L515 1237L197 1010L197 1180L530 1409L696 1409L696 0Z" transform="translate(-4.723 0.000) scale(0.004150 -0.004150)" fill="#111" stroke="#111" stroke-width="0.12" vector-effect="non-scaling-stroke"/></g>
<text transform="translate(382.45 362.00) scale(0.9200 1)" font-size="9.4">min after</text>
<text transform="translate(419.20 362.00) scale(0.8750 1)" font-size="9.4">CXCL </text><g transform="translate(419.20 362.00) scale(0.8750 1)"><path d="M515 0L515 1237L197 1010L197 1180L530 1409L696 1409L696 0Z" transform="translate(25.061 0.000) scale(0.004590 -0.004590)" fill="#111" stroke="#111" stroke-width="0.12" vector-effect="non-scaling-stroke"/></g>
<text transform="translate(290.3 271.8) rotate(-90) scale(0.9362 1)" font-size="9.4" text-anchor="middle">Leukocyte arrest per mm<tspan font-size="5.8" dy="-3.4" stroke-width="0.2">2</tspan></text>
<path d="M315.5 296.9V310.9M313.3 296.9H317.7M313.3 310.9H317.7" stroke="#111" stroke-width="1.15" fill="none"/>
<path d="M334.8 229.4V242.0M332.6 229.4H337.0M332.6 242.0H337.0" stroke="#111" stroke-width="1.15" fill="none"/>
<path d="M354.1 236.5V255.0M351.9 236.5H356.3M351.9 255.0H356.3" stroke="#111" stroke-width="1.15" fill="none"/>
<path d="M373.4 251.7V266.0M371.2 251.7H375.6M371.2 266.0H375.6" stroke="#111" stroke-width="1.15" fill="none"/>
<path d="M392.7 257.0V265.8M390.5 257.0H394.9M390.5 265.8H394.9" stroke="#111" stroke-width="1.15" fill="none"/>
<path d="M412.0 264.0V276.0M409.8 264.0H414.2M409.8 276.0H414.2" stroke="#111" stroke-width="1.15" fill="none"/>
<path d="M431.3 266.8V284.8M429.1 266.8H433.5M429.1 284.8H433.5" stroke="#111" stroke-width="1.15" fill="none"/>
<path d="M450.6 275.8V295.8M448.4 275.8H452.8M448.4 295.8H452.8" stroke="#111" stroke-width="1.15" fill="none"/>
<path d="M469.9 287.0V300.0M467.7 287.0H472.1M467.7 300.0H472.1" stroke="#111" stroke-width="1.15" fill="none"/>
<path d="M489.2 300.0V317.2M487.0 300.0H491.4M487.0 317.2H491.4" stroke="#111" stroke-width="1.15" fill="none"/>
<path d="M508.5 294.2V312.0M506.3 294.2H510.7M506.3 312.0H510.7" stroke="#111" stroke-width="1.15" fill="none"/>
<path d="M315.5 311.1V319.5M313.3 311.1H317.7M313.3 319.5H317.7" stroke="#111" stroke-width="1.15" fill="none"/>
<path d="M334.8 238.0V250.5M332.6 238.0H337.0M332.6 250.5H337.0" stroke="#111" stroke-width="1.15" fill="none"/>
<path d="M354.1 237.0V254.5M351.9 237.0H356.3M351.9 254.5H356.3" stroke="#111" stroke-width="1.15" fill="none"/>
<path d="M373.4 252.0V270.8M371.2 252.0H375.6M371.2 270.8H375.6" stroke="#111" stroke-width="1.15" fill="none"/>
<path d="M392.7 267.0V278.5M390.5 267.0H394.9M390.5 278.5H394.9" stroke="#111" stroke-width="1.15" fill="none"/>
<path d="M412.0 264.0V280.1M409.8 264.0H414.2M409.8 280.1H414.2" stroke="#111" stroke-width="1.15" fill="none"/>
<path d="M431.3 273.0V287.0M429.1 273.0H433.5M429.1 287.0H433.5" stroke="#111" stroke-width="1.15" fill="none"/>
<path d="M450.6 281.7V295.7M448.4 281.7H452.8M448.4 295.7H452.8" stroke="#111" stroke-width="1.15" fill="none"/>
<path d="M469.9 287.4V300.3M467.7 287.4H472.1M467.7 300.3H472.1" stroke="#111" stroke-width="1.15" fill="none"/>
<path d="M489.2 294.6V310.4M487.0 294.6H491.4M487.0 310.4H491.4" stroke="#111" stroke-width="1.15" fill="none"/>
<path d="M508.5 300.3V314.5M506.3 300.3H510.7M506.3 314.5H510.7" stroke="#111" stroke-width="1.15" fill="none"/>
<path d="M315.5 303.9 L334.8 235.7 L354.1 245.9 L373.4 258.8 L392.7 261.4 L412.0 269.7 L431.3 275.8 L450.6 285.8 L469.9 293.4 L489.2 306.5 L508.5 304.6" stroke="#111" stroke-width="1.8" fill="none" stroke-linejoin="round"/>
<path d="M315.5 315.4 L334.8 244.3 L354.1 245.6 L373.4 260.8 L392.7 273.0 L412.0 271.3 L431.3 280.0 L450.6 288.7 L469.9 293.5 L489.2 302.3 L508.5 306.6" stroke="#111" stroke-width="1.8" fill="none" stroke-linejoin="round"/>
<circle cx="315.5" cy="315.4" r="2.2" fill="#111"/>
<circle cx="334.8" cy="244.3" r="2.2" fill="#111"/>
<circle cx="354.1" cy="245.6" r="2.2" fill="#111"/>
<circle cx="373.4" cy="260.8" r="2.2" fill="#111"/>
<circle cx="392.7" cy="273.0" r="2.2" fill="#111"/>
<circle cx="412.0" cy="271.3" r="2.2" fill="#111"/>
<circle cx="431.3" cy="280.0" r="2.2" fill="#111"/>
<circle cx="450.6" cy="288.7" r="2.2" fill="#111"/>
<circle cx="469.9" cy="293.5" r="2.2" fill="#111"/>
<circle cx="489.2" cy="302.3" r="2.2" fill="#111"/>
<circle cx="508.5" cy="306.6" r="2.2" fill="#111"/>
<circle cx="315.5" cy="303.9" r="1.65" fill="#fff" stroke="#111" stroke-width="1.1"/>
<circle cx="334.8" cy="235.7" r="1.65" fill="#fff" stroke="#111" stroke-width="1.1"/>
<circle cx="354.1" cy="245.9" r="1.65" fill="#fff" stroke="#111" stroke-width="1.1"/>
<circle cx="373.4" cy="258.8" r="1.65" fill="#fff" stroke="#111" stroke-width="1.1"/>
<circle cx="392.7" cy="261.4" r="1.65" fill="#fff" stroke="#111" stroke-width="1.1"/>
<circle cx="412.0" cy="269.7" r="1.65" fill="#fff" stroke="#111" stroke-width="1.1"/>
<circle cx="431.3" cy="275.8" r="1.65" fill="#fff" stroke="#111" stroke-width="1.1"/>
<circle cx="450.6" cy="285.8" r="1.65" fill="#fff" stroke="#111" stroke-width="1.1"/>
<circle cx="469.9" cy="293.4" r="1.65" fill="#fff" stroke="#111" stroke-width="1.1"/>
<circle cx="489.2" cy="306.5" r="1.65" fill="#fff" stroke="#111" stroke-width="1.1"/>
<circle cx="508.5" cy="304.6" r="1.65" fill="#fff" stroke="#111" stroke-width="1.1"/>
<line x1="408.2" y1="216.0" x2="424.8" y2="216.0" stroke="#111" stroke-width="1.4"/>
<circle cx="416.5" cy="216.0" r="2" fill="#111"/>
<text x="428.6" y="218.0" font-size="7.5" stroke-width="0.05">TGFβRII<tspan font-size="5.5" dy="-3.3" stroke-width="0.05">LysMKO</tspan><tspan dy="3.3"> +PBS</tspan></text>
<line x1="408.2" y1="229.2" x2="424.8" y2="229.2" stroke="#111" stroke-width="1.4"/>
<circle cx="416.5" cy="229.2" r="1.6" fill="#fff" stroke="#111" stroke-width="0.9"/>
<text x="428.6" y="232.0" font-size="7.5" stroke-width="0.05">TGFβRII<tspan font-size="5.5" dy="-3.3" stroke-width="0.05">LysMKO</tspan><tspan dy="3.3"> +GDF- 5</tspan></text><path d="M515 0L515 1237L197 1010L197 1180L530 1409L696 1409L696 0Z" transform="translate(503.178 232.000) scale(0.003662 -0.003662)" fill="#111" stroke="#111" stroke-width="0.05" vector-effect="non-scaling-stroke"/>
<text x="334.8" y="226.8" font-size="7.5" text-anchor="middle">n.s.</text>
</g>
</svg>
</body></html>
